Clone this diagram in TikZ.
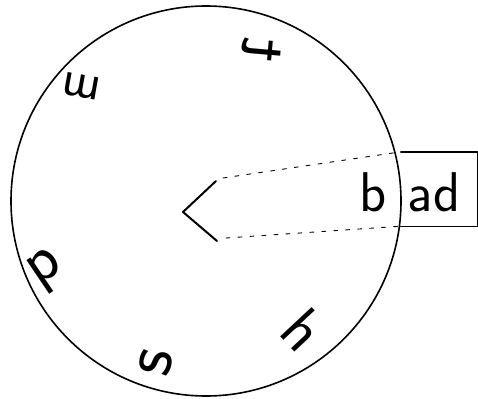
\documentclass[tikz,border=0pt]{standalone}
\usepackage{fontspec}
\usetikzlibrary{positioning}

\begin{document}
\begin{tikzpicture}[x=1pt, y=-1pt, line cap=round, line join=round,
    letter/.style={font=\sffamily\fontsize{#1}{#1}\selectfont, inner sep=0pt},
    letter/.default=56,
    guide/.style={line width=0.9pt, dash pattern=on 4pt off 8pt}]
    \useasboundingbox (0,0) rectangle (478,398);
    % wheel
    \node[circle, draw, line width=1.6pt, minimum size=390pt, inner sep=0pt] (wheel) at (206,201) {};
    % letters round the wheel
    \node[letter=70, rotate=-95, xscale=-1] (t) at (262,49) {t};
    \node[letter=52, rotate=170] (m) at (81,86) {m};
    \node[letter=65, rotate=34] (p) at (47,271) {p};
    \node[letter=72, rotate=78] (s) at (156,363) {s};
    \node[letter=62, rotate=-47] (h) at (303,330) {h};
    \node[letter] (b) at (373,192) {b};
    % window with the rest of the word
    \node[minimum width=76pt, minimum height=74pt, inner sep=0pt] (window) at (439,189) {};
    \node[letter] (ad) at (434,192) {ad};
    \draw[line width=1.4pt] (window.north west) -- (window.north east) -- (window.south east) -- (window.south west);
    % pointer
    \coordinate (chevtop) at (216,181);
    \coordinate (tip) at (183,212);
    \coordinate (chevbot) at (217,241);
    \draw[line width=2pt] (chevtop) -- (tip) -- (chevbot);
    \coordinate (upstart) at (223,178);
    \coordinate (lowstart) at (226,238);
    \draw[guide] (upstart) -- (window.north west);
    \draw[guide] (lowstart) -- (window.south west);
\end{tikzpicture}
\end{document}
